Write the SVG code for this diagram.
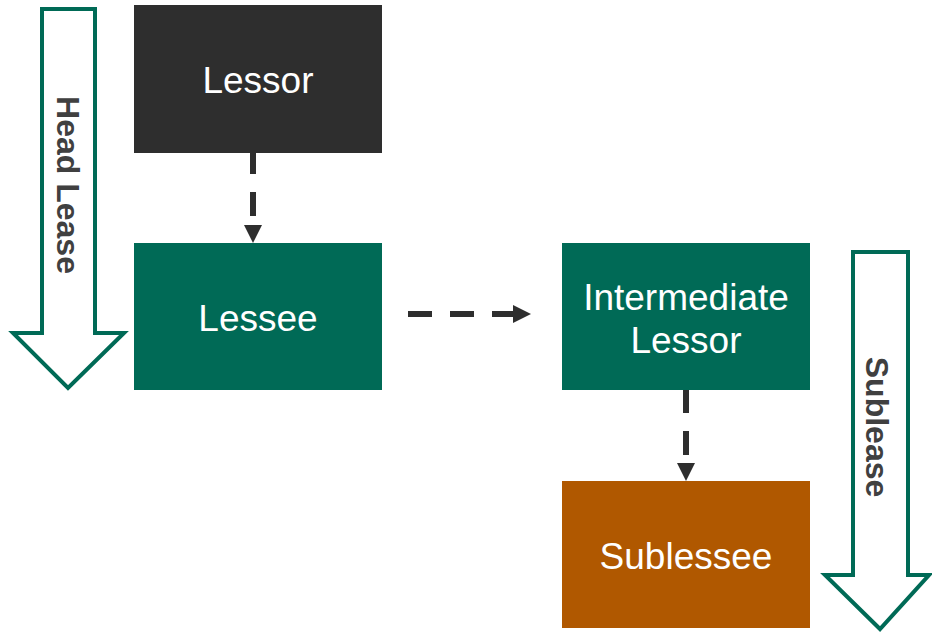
<svg xmlns="http://www.w3.org/2000/svg" width="932" height="632" viewBox="0 0 932 632">
<defs>
<marker id="ah" markerUnits="userSpaceOnUse" markerWidth="18" markerHeight="18" refX="0" refY="9" orient="auto">
<path d="M0,0 L18,9 L0,18 Z" fill="#2e2e2e"/>
</marker>
<style>
.box text{font-family:"Liberation Sans",Arial,sans-serif;font-size:37px;fill:#ffffff;text-anchor:middle}
.big{fill:#ffffff;stroke:#006a56;stroke-width:4;stroke-linejoin:miter}
.lbl{font-family:"Liberation Sans",Arial,sans-serif;font-size:32px;font-weight:bold;fill:#404040;text-anchor:middle;dominant-baseline:central}
.conn line{stroke:#2e2e2e;stroke-width:6;stroke-dasharray:24 18;fill:none}
</style>
</defs>
<g id="headlease">
<polygon class="big" points="42,9 95,9 95,333 124,333 68,388 13,333 42,333"/>
<text class="lbl" transform="translate(68,185) rotate(90)">Head Lease</text>
</g>
<g id="sublease">
<polygon class="big" points="853,252 908,252 908,575 929,575 880,629 825,575 853,575"/>
<text class="lbl" transform="translate(877,427) rotate(90)">Sublease</text>
</g>
<g class="conn">
<line x1="253" y1="150" x2="253" y2="225" marker-end="url(#ah)"/>
<line x1="408" y1="314" x2="513" y2="314" marker-end="url(#ah)"/>
<line x1="686" y1="389" x2="686" y2="463" marker-end="url(#ah)"/>
</g>
<g id="lessor" class="box">
<rect x="134" y="5" width="248" height="148" fill="#2e2e2e"/>
<text x="258" y="93">Lessor</text>
</g>
<g id="lessee" class="box">
<rect x="134" y="243" width="248" height="147" fill="#006a56"/>
<text x="258" y="331">Lessee</text>
</g>
<g id="intermediate" class="box">
<rect x="562" y="243" width="248" height="147" fill="#006a56"/>
<text x="686" y="310">Intermediate</text>
<text x="686" y="353">Lessor</text>
</g>
<g id="sublessee" class="box">
<rect x="562" y="481" width="248" height="147" fill="#b05800"/>
<text x="686" y="569">Sublessee</text>
</g>
</svg>
